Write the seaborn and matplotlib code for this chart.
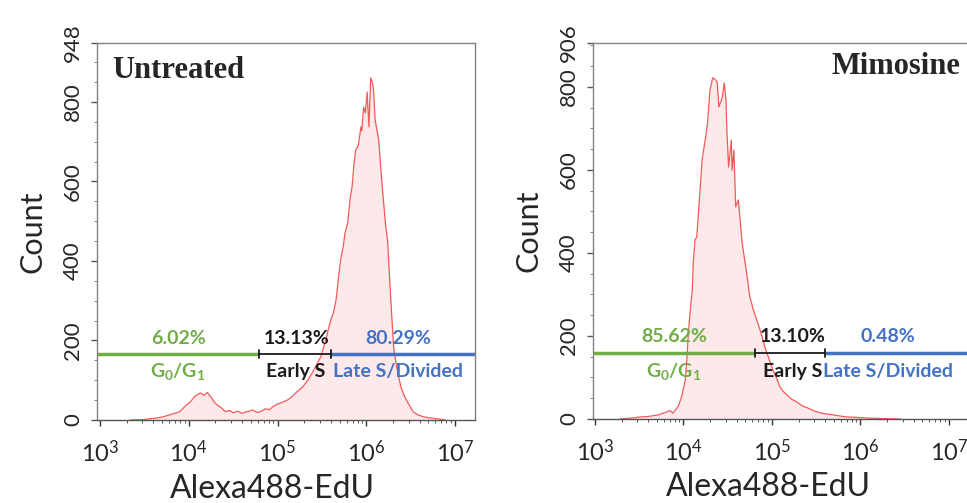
import numpy as np
import pandas as pd
import matplotlib
matplotlib.use('Agg')
import matplotlib.pyplot as plt
import matplotlib.ticker as mticker
import seaborn as sns

sns.set_theme(style="white")
plt.rcParams['font.family'] = ['Lato', 'DejaVu Sans']
plt.rcParams['mathtext.default'] = 'regular'

# histogram traces (log10 of intensity, count)
untreated_log = [3.34, 3.49, 3.60, 3.71, 3.80, 3.90, 3.96, 4.02, 4.07, 4.13, 4.17, 4.21, 4.24,
                 4.26, 4.29, 4.32, 4.37, 4.41, 4.46, 4.50, 4.55, 4.60, 4.66, 4.72, 4.77,
                 4.81, 4.86, 4.91, 4.95, 5.00, 5.05, 5.11, 5.16, 5.22, 5.28, 5.34, 5.39,
                 5.45, 5.49, 5.52, 5.55, 5.57, 5.60, 5.63, 5.66, 5.68, 5.71, 5.74, 5.76,
                 5.79, 5.82, 5.84, 5.86, 5.88, 5.91, 5.94, 5.95, 5.97, 5.99, 6.01, 6.02,
                 6.03, 6.05, 6.07, 6.08, 6.10, 6.14, 6.18, 6.22, 6.24, 6.27, 6.31, 6.35,
                 6.39, 6.43, 6.47, 6.53, 6.59, 6.65, 6.72, 6.80, 6.89]
untreated_cnt = [0, 1, 4, 8, 14, 21, 35, 46, 60, 68, 62, 69, 60,
                 55, 44, 38, 30, 21, 24, 18, 22, 17, 21, 25, 19,
                 21, 28, 26, 34, 40, 44, 50, 58, 71, 82, 100, 118,
                 143, 160, 184, 205, 226, 251, 270, 302, 344, 402, 435, 470,
                 495, 560, 586, 640, 679, 690, 737, 728, 787, 772, 825, 780,
                 737, 860, 848, 835, 754, 704, 586, 485, 453, 327, 176, 125,
                 83, 60, 43, 20, 12, 8, 5, 3, 0]

mimosine_log = [3.28, 3.40, 3.51, 3.60, 3.66, 3.72, 3.77, 3.82, 3.85, 3.88, 3.94, 3.98,
                4.02, 4.04, 4.05, 4.07, 4.10, 4.11, 4.13, 4.15, 4.19, 4.21, 4.24, 4.27,
                4.30, 4.33, 4.36, 4.38, 4.40, 4.44, 4.46, 4.48, 4.49, 4.51, 4.54, 4.55,
                4.57, 4.59, 4.62, 4.66, 4.67, 4.72, 4.75, 4.79, 4.84, 4.89, 4.92, 4.96,
                5.01, 5.05, 5.09, 5.13, 5.17, 5.22, 5.28, 5.34, 5.40, 5.47, 5.54, 5.62,
                5.69, 5.77, 5.85, 5.95, 6.11, 6.25, 6.45]
mimosine_cnt = [0, 2, 5, 6, 8, 10, 14, 18, 20, 14, 30, 54,
                94, 150, 190, 247, 311, 376, 431, 439, 559, 624, 665, 709,
                793, 822, 818, 812, 752, 776, 810, 769, 696, 607, 672, 600,
                648, 511, 528, 431, 414, 342, 294, 263, 231, 198, 173, 149,
                118, 100, 77, 66, 58, 48, 41, 32, 27, 20, 15, 12,
                10, 7, 5, 4, 2, 1, 0]

panels = ['Untreated', 'Mimosine']
y_max = [948, 906]
gate_y = [166, 159]
gate_edges = [[4.79, 5.60], [4.81, 5.60]]
pct_labels = [['6.02%', '13.13%', '80.29%'], ['85.62%', '13.10%', '0.48%']]
gate_names = ['G$_0$/G$_1$', 'Early S', 'Late S/Divided']
label_x_log = [[3.88, 5.21, 6.36], [3.89, 5.23, 6.31]]
x_lims = [[2.966, 7.226], [2.977, 7.25]]

line_red = '#F25A5A'
fill_pink = '#FDE8EA'
gate_colors = ['#70AD47', '#1A1A1A', '#4472C4']

fig = plt.figure(figsize=(9.67, 5.03), dpi=100)
ax_pos = [[0.1003, 0.165, 0.391, 0.7495],
          [0.6132, 0.167, 0.391, 0.7475]]

data = [(untreated_log, untreated_cnt), (mimosine_log, mimosine_cnt)]

for i in range(2):
    ax = fig.add_axes(ax_pos[i])
    lg, cnt = data[i]
    df = pd.DataFrame({'fl': 10 ** np.array(lg), 'count': cnt})
    ax.fill_between(df['fl'], df['count'], 0, color=fill_pink, lw=0)
    sns.lineplot(x='fl', y='count', data=df, ax=ax, color=line_red, lw=0.9,
                 estimator=None, sort=False)
    ax.set_xscale('log')
    ax.set_xlim(10 ** x_lims[i][0], 10 ** x_lims[i][1])
    ax.set_ylim(0, y_max[i])

    # gates
    lo = 10 ** x_lims[i][0]
    hi = 10 ** x_lims[i][1]
    e1 = 10 ** gate_edges[i][0]
    e2 = 10 ** gate_edges[i][1]
    gy = gate_y[i]
    ax.plot([lo, e1], [gy, gy], color=gate_colors[0], lw=2.5, solid_capstyle='butt', zorder=5)
    ax.plot([e1, e2], [gy, gy], color=gate_colors[1], lw=1.3, zorder=5)
    ax.plot([e2, hi], [gy, gy], color=gate_colors[2], lw=2.5, solid_capstyle='butt', zorder=5)
    for e in [e1, e2]:
        ax.plot([e, e], [gy - 9, gy + 9], color='#1A1A1A', lw=1.3, zorder=6)
    for k in range(3):
        xx = 10 ** label_x_log[i][k]
        ax.text(xx, gy + 40, pct_labels[i][k], color=gate_colors[k], fontsize=14,
                fontweight='bold', ha='center', va='center', zorder=7)
        ax.text(xx, gy - 45, gate_names[k], color=gate_colors[k], fontsize=14,
                fontweight='bold', ha='center', va='center', zorder=7)

    # ticks
    ax.set_yticks([0, 200, 400, 600, 800, y_max[i]])
    ax.set_yticklabels(['0', '200', '400', '600', '800', str(y_max[i])],
                       rotation=90, va='center', fontsize=16)
    ax.yaxis.set_minor_locator(mticker.MultipleLocator(50))
    ax.xaxis.set_major_locator(mticker.LogLocator(base=10, numticks=10))
    ax.xaxis.set_major_formatter(mticker.LogFormatterMathtext())
    ax.xaxis.set_minor_locator(mticker.LogLocator(base=10, subs=np.arange(2, 10), numticks=20))
    ax.xaxis.set_minor_formatter(mticker.NullFormatter())
    ax.tick_params(axis='x', which='major', labelsize=17, length=4, width=1,
                   color='#333333', direction='out', bottom=True, pad=10)
    ax.tick_params(axis='x', which='minor', length=2, width=0.7, color='#555555',
                   direction='out', bottom=True)
    ax.tick_params(axis='y', which='major', length=4, width=1, color='#555555',
                   direction='out', left=True, pad=6)
    ax.tick_params(axis='y', which='minor', length=2, width=0.7, color='#888888',
                   direction='out', left=True)
    for s in ax.spines.values():
        s.set_color('#808080')
        s.set_linewidth(1)
    ax.spines['bottom'].set_color('#555555')

    ax.set_xlabel('Alexa488-EdU', fontsize=23, va='center')
    ax.xaxis.set_label_coords(0.463, -0.182)
    ax.set_ylabel('Count', fontsize=22, labelpad=12)

    if i == 0:
        ax.text(0.04, 0.965, panels[i], transform=ax.transAxes, fontsize=22,
                fontweight='bold', family='Liberation Serif', ha='left', va='top')
    else:
        ax.text(0.993, 0.897, panels[i], transform=fig.transFigure, fontsize=22,
                fontweight='bold', family='Liberation Serif', ha='right', va='top')

fig.savefig('out.png', dpi=100)
